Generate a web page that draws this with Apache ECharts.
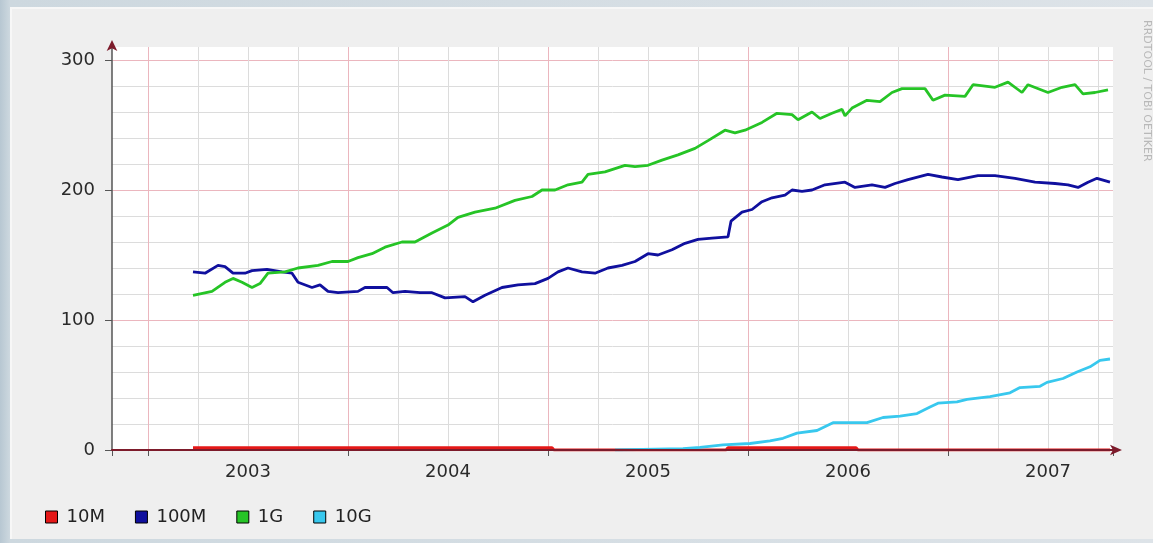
<!DOCTYPE html>
<html><head><meta charset="utf-8">
<script src="https://cdn.jsdelivr.net/npm/echarts@6/dist/echarts.min.js"></script>
<style>
html,body{margin:0;padding:0;width:1153px;height:543px;overflow:hidden;
background:linear-gradient(90deg,#b7c7d2 0px,#cdd8df 10px,#dde3e8 100%);}
#panel{position:absolute;left:10px;top:7px;width:1143px;height:532px;background:#efefef;border-top:2px solid #f7f7f7;border-left:2px solid #f7f7f7;box-sizing:border-box}
#chart{position:absolute;left:0;top:0;width:1153px;height:543px}
</style></head><body>
<div id="panel"></div><div id="chart"></div>
<script>
// ---- data (x in decimal years) ----
const seriesNames = ['10M', '100M', '1G', '10G'];
const yTickLabels = [0, 100, 200, 300];
const xYearLabels = [2003, 2004, 2005, 2006, 2007];

const t10M = [2003.225, 2005.02, 2005.03, 2005.89, 2005.90, 2006.54, 2006.55, 2007.81];
const v10M = [1.8, 1.8, 0, 0, 1.8, 1.8, 0, 0];

const t100M = [2003.225, 2003.285, 2003.35, 2003.385, 2003.425, 2003.485, 2003.52, 2003.595, 2003.67, 2003.72,
  2003.75, 2003.82, 2003.86, 2003.90, 2003.95, 2004.05, 2004.085, 2004.15, 2004.195, 2004.225,
  2004.285, 2004.36, 2004.42, 2004.485, 2004.585, 2004.625, 2004.685, 2004.77, 2004.85, 2004.935,
  2005.0, 2005.05, 2005.10, 2005.17, 2005.235, 2005.30, 2005.37, 2005.435, 2005.50, 2005.55,
  2005.62, 2005.685, 2005.75, 2005.82, 2005.90, 2005.915, 2005.97, 2006.02, 2006.07, 2006.12,
  2006.185, 2006.22, 2006.27, 2006.32, 2006.385, 2006.485, 2006.535, 2006.62, 2006.685, 2006.735,
  2006.80, 2006.90, 2006.97, 2007.05, 2007.15, 2007.235, 2007.335, 2007.435, 2007.535, 2007.60,
  2007.65, 2007.70, 2007.745, 2007.81];
const v100M = [137, 136, 142, 141, 136, 136, 138, 139, 137, 136,
  129, 125, 127, 122, 121, 122, 125, 125, 125, 121,
  122, 121, 121, 117, 118, 114, 119, 125, 127, 128,
  132, 137, 140, 137, 136, 140, 142, 145, 151, 150,
  154, 159, 162, 163, 164, 176, 183, 185, 191, 194,
  196, 200, 199, 200, 204, 206, 202, 204, 202, 205,
  208, 212, 210, 208, 211, 211, 209, 206, 205, 204,
  202, 206, 209, 206];

const t1G = [2003.225, 2003.32, 2003.385, 2003.425, 2003.47, 2003.52, 2003.56, 2003.60, 2003.685, 2003.75,
  2003.85, 2003.92, 2004.0, 2004.05, 2004.12, 2004.185, 2004.27, 2004.335, 2004.42, 2004.50,
  2004.55, 2004.635, 2004.735, 2004.835, 2004.92, 2004.97, 2005.035, 2005.10, 2005.17, 2005.20,
  2005.285, 2005.385, 2005.435, 2005.50, 2005.57, 2005.65, 2005.735, 2005.80, 2005.885, 2005.935,
  2005.985, 2006.07, 2006.145, 2006.22, 2006.25, 2006.32, 2006.36, 2006.42, 2006.47, 2006.485,
  2006.52, 2006.595, 2006.66, 2006.72, 2006.77, 2006.885, 2006.925, 2006.985, 2007.085, 2007.125,
  2007.235, 2007.30, 2007.37, 2007.40, 2007.50, 2007.57, 2007.635, 2007.675, 2007.735, 2007.80];
const v1G = [119, 122, 129, 132, 129, 125, 128, 136, 137, 140,
  142, 145, 145, 148, 151, 156, 160, 160, 167, 173,
  179, 183, 186, 192, 195, 200, 200, 204, 206, 212,
  214, 219, 218, 219, 223, 227, 232, 238, 246, 244,
  246, 252, 259, 258, 254, 260, 255, 259, 262, 257,
  263, 269, 268, 275, 278, 278, 269, 273, 272, 281,
  279, 283, 275, 281, 275, 279, 281, 274, 275, 277];

const t10G = [2005.335, 2005.675, 2005.76, 2005.875, 2006.01, 2006.11, 2006.175, 2006.245, 2006.345, 2006.425,
  2006.51, 2006.595, 2006.675, 2006.76, 2006.845, 2006.91, 2006.95, 2007.045, 2007.095, 2007.21,
  2007.31, 2007.36, 2007.46, 2007.495, 2007.575, 2007.645, 2007.71, 2007.76, 2007.81];
const v10G = [0, 1, 2, 4, 5, 7, 9, 13, 15, 21,
  21, 21, 25, 26, 28, 33, 36, 37, 39, 41,
  44, 48, 49, 52, 55, 60, 64, 69, 70];

const seriesColors = ['#e41818', '#10109e', '#26c426', '#38c8ee'];
const xMin = 2002.82, xMax = 2007.825, yMin = 0, yMax = 310;

const pairs = (t, v) => t.map((x, i) => [x, v[i]]);
const allData = [pairs(t10M, v10M), pairs(t100M, v100M), pairs(t1G, v1G), pairs(t10G, v10G)];

const FONT = 'DejaVu Sans';
const MAJOR = '#ebb6be', MINOR = '#dcdcdc', AXISRED = '#7d1b2b';

const chart = echarts.init(document.getElementById('chart'), null, {renderer: 'canvas'});
chart.setOption({
  animation: false,
  backgroundColor: 'transparent',
  textStyle: {fontFamily: FONT},
  grid: {left: 112, top: 47, right: 40, bottom: 93, show: true, backgroundColor: '#ffffff', borderWidth: 0},
  legend: {
    data: seriesNames, left: 40, top: 503, icon: 'rect', itemWidth: 12, itemHeight: 12, itemGap: 30,
    itemStyle: {borderColor: '#000', borderWidth: 1},
    textStyle: {fontFamily: FONT, fontSize: 18, color: '#222', padding: [0, 0, 0, 4]}
  },
  xAxis: [
    { // grid lines / ticks
      type: 'value', position: 'bottom', min: xMin, max: xMax, splitNumber: 5,
      axisLine: {show: false},
      axisTick: {show: true, length: 6, lineStyle: {color: '#555'}},
      axisLabel: {show: false},
      splitLine: {show: true, showMinLine: false, showMaxLine: false, lineStyle: {color: MAJOR, width: 1}},
      minorTick: {show: false, splitNumber: 4},
      minorSplitLine: {show: true, lineStyle: {color: MINOR, width: 1}}
    },
    { // year labels (centred in each year) + axis line with arrow
      type: 'value', position: 'bottom', min: xMin - 0.5, max: xMax - 0.5, splitNumber: 5, z: 10,
      axisLine: {show: true, onZero: false, symbol: ['none', 'arrow'], symbolSize: [8, 12], symbolOffset: [0, 9],
        lineStyle: {color: AXISRED, width: 2}},
      axisTick: {show: false},
      splitLine: {show: false},
      axisLabel: {show: true, margin: 13, fontSize: 18, color: '#2a2a2a', fontFamily: FONT,
        formatter: v => (xYearLabels.indexOf(Math.round(v)) >= 0 && Math.abs(v - Math.round(v)) < 1e-6) ? String(Math.round(v)) : ''}
    }
  ],
  yAxis: [
    {
      type: 'value', position: 'left', min: yMin, max: yMax, interval: 100,
      axisLine: {show: true, lineStyle: {color: '#555', width: 1.5}},
      axisTick: {show: true, length: 7, lineStyle: {color: '#555'}},
      axisLabel: {show: true, margin: 17, fontSize: 18, color: '#2a2a2a', fontFamily: FONT, showMaxLabel: false,
        formatter: v => (yTickLabels.indexOf(v) >= 0 ? String(v) : '')},
      splitLine: {show: true, showMinLine: false, showMaxLine: false, lineStyle: {color: MAJOR, width: 1}},
      minorTick: {show: false, splitNumber: 5},
      minorSplitLine: {show: true, lineStyle: {color: MINOR, width: 1}}
    },
    { // arrow head only
      type: 'value', position: 'left', min: yMin, max: yMax, interval: 100, z: 10,
      axisLine: {show: true, symbol: ['none', 'arrow'], symbolSize: [8, 11], symbolOffset: [0, 7],
        lineStyle: {color: AXISRED, width: 0}},
      axisTick: {show: false}, axisLabel: {show: false}, splitLine: {show: false}
    }
  ],
  graphic: [{
    type: 'text', x: 1147, y: 20, rotation: -Math.PI / 2, silent: true,
    style: {text: 'RRDTOOL / TOBI OETIKER', x: 0, y: 0, align: 'left', verticalAlign: 'middle',
      fontFamily: FONT, fontSize: 11, fill: '#b8b8b8'}
  }],
  series: seriesNames.map((name, i) => ({
    name: name, type: 'line', xAxisIndex: 0, yAxisIndex: 0,
    data: allData[i], showSymbol: false, symbol: 'none',
    color: seriesColors[i],
    lineStyle: {width: i === 0 ? 3 : 2.8, color: seriesColors[i]},
    itemStyle: {color: seriesColors[i]}
  }))
});
</script></body></html>
